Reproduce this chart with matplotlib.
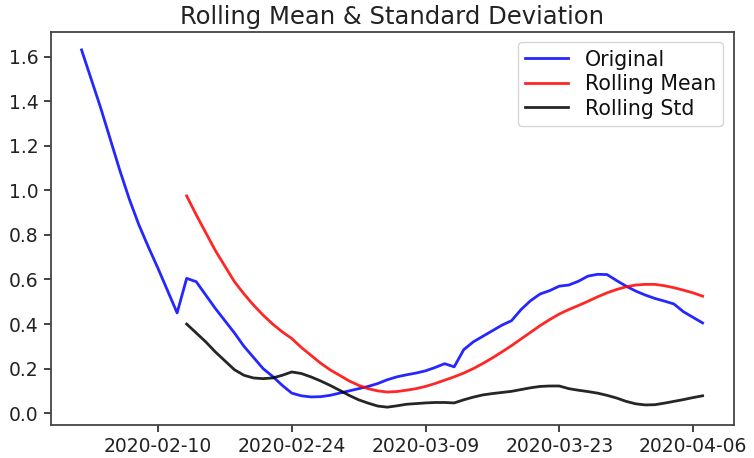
import matplotlib
matplotlib.use("Agg")
import matplotlib.pyplot as plt
import pandas as pd

start_date = "2020-02-02"
n_days = 66
window = 12

original = [1.63, 1.50, 1.37, 1.23, 1.09, 0.96, 0.845, 0.745, 0.65, 0.55,
            0.45, 0.605, 0.59, 0.53, 0.47, 0.415, 0.36, 0.30, 0.25, 0.20,
            0.165, 0.125, 0.09, 0.078, 0.073, 0.074, 0.08, 0.09, 0.10, 0.11,
            0.12, 0.133, 0.15, 0.163, 0.172, 0.18, 0.19, 0.205, 0.222, 0.208,
            0.285, 0.32, 0.345, 0.37, 0.395, 0.415, 0.465, 0.505, 0.535, 0.55,
            0.57, 0.575, 0.592, 0.615, 0.623, 0.622, 0.595, 0.57, 0.548, 0.53,
            0.515, 0.503, 0.49, 0.455, 0.43, 0.405]

rolling_mean = [0.975, 0.89, 0.81, 0.73, 0.66, 0.59, 0.535, 0.485, 0.44,
                0.40, 0.365, 0.335, 0.295, 0.26, 0.225, 0.195, 0.17, 0.145,
                0.125, 0.11, 0.10, 0.095, 0.097, 0.103, 0.11, 0.12, 0.133,
                0.148, 0.163, 0.18, 0.20, 0.223, 0.248, 0.275, 0.303, 0.333,
                0.363, 0.393, 0.42, 0.445, 0.465, 0.483, 0.502, 0.522, 0.54,
                0.555, 0.567, 0.575, 0.578, 0.578, 0.572, 0.563, 0.552, 0.54,
                0.525]

rolling_std = [0.40, 0.36, 0.32, 0.275, 0.235, 0.195, 0.17, 0.158, 0.155,
               0.158, 0.17, 0.185, 0.178, 0.163, 0.145, 0.125, 0.103, 0.08,
               0.06, 0.045, 0.032, 0.027, 0.033, 0.04, 0.043, 0.046, 0.048,
               0.048, 0.046, 0.06, 0.072, 0.082, 0.088, 0.093, 0.098, 0.106,
               0.114, 0.12, 0.122, 0.122, 0.11, 0.103, 0.097, 0.09, 0.08,
               0.068, 0.053, 0.042, 0.037, 0.038, 0.045, 0.053, 0.061, 0.07,
               0.078]

tick_labels = ["2020-02-10", "2020-02-24", "2020-03-09", "2020-03-23", "2020-04-06"]
y_ticks = [0.0, 0.2, 0.4, 0.6, 0.8, 1.0, 1.2, 1.4, 1.6]

dates = pd.date_range(start_date, periods=n_days)
roll_dates = dates[window - 1:]

fig = plt.figure(figsize=(7.54, 4.58), dpi=100)
ax = fig.add_axes([0.067, 0.072, 0.906, 0.858])

lw = 2.0
ax.plot(dates, original, color="blue", lw=lw, label="Original", alpha=0.85)
ax.plot(roll_dates, rolling_mean, color="red", lw=lw, label="Rolling Mean", alpha=0.85)
ax.plot(roll_dates, rolling_std, color="black", lw=lw, label="Rolling Std", alpha=0.85)

ax.set_xticks(pd.to_datetime(tick_labels))
ax.set_xticklabels(tick_labels)
ax.set_yticks(y_ticks)
ax.set_yticklabels([f"{v:.1f}" for v in y_ticks])
ax.tick_params(labelsize=13.5, length=5, width=1.2, colors="#222222")
for s in ax.spines.values():
    s.set_linewidth(1.3)
    s.set_color("#444444")

ax.set_title("Rolling Mean & Standard Deviation", fontsize=17.5, color="#222222", pad=6)
leg = ax.legend(loc="upper right", fontsize=14.8, framealpha=0.8, handlelength=2.1,
                labelspacing=0.22, borderpad=0.35, borderaxespad=0.5)
for t in leg.get_texts():
    t.set_color("#111111")

fig.savefig("out.png", dpi=100)
